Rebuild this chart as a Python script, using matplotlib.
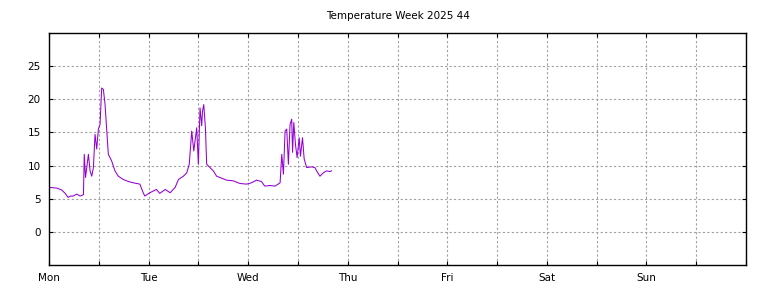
import numpy as np
import matplotlib
matplotlib.use('Agg')
from matplotlib import pyplot as plt
from matplotlib.ticker import MultipleLocator

# hours since Monday 00:00 and temperature in degrees C
hours = [0.2, 1.9, 3.1, 3.9, 4.6, 5.2, 5.8, 6.7, 7.5, 8.3, 8.5, 8.8, 9.5, 9.9,
         10.3, 10.7, 11.1, 11.5, 11.9, 12.3, 12.7, 13.1, 13.5, 13.9, 14.3, 15.1,
         15.9, 16.7, 17.9, 19.1, 20.3, 21.9, 22.7, 23.1, 24.3, 25.9, 26.7, 28.0,
         29.2, 30.4, 31.2, 32.4, 33.2, 33.8, 34.4, 34.9, 35.6, 36.0, 36.4, 36.8,
         37.0, 37.3, 37.7, 38.0, 38.8, 39.6, 40.4, 41.6, 42.8, 44.4, 46.0, 47.6,
         48.8, 50.0, 51.2, 52.0, 53.2, 54.5, 55.7, 56.1, 56.5, 56.9, 57.3, 57.7,
         58.1, 58.5, 58.7, 59.0, 59.4, 59.8, 60.3, 60.6, 61.1, 61.5, 62.1, 63.3,
         64.1, 64.5, 65.3, 66.1, 66.9, 67.7, 68.1]
temps = [6.7, 6.6, 6.3, 5.8, 5.2, 5.4, 5.4, 5.7, 5.4, 5.6, 11.7, 8.2, 11.7, 9.2,
         8.4, 9.7, 14.7, 12.5, 15.5, 16.2, 21.7, 21.5, 19.3, 15.5, 11.7, 10.7,
         9.2, 8.4, 7.9, 7.6, 7.4, 7.2, 5.9, 5.4, 5.9, 6.4, 5.8, 6.4,
         5.9, 6.7, 7.9, 8.4, 8.9, 10.2, 15.2, 12.2, 15.7, 10.2, 18.7, 16.0,
         18.2, 19.2, 15.7, 10.2, 9.7, 9.2, 8.4, 8.1, 7.8, 7.7, 7.3, 7.2,
         7.4, 7.8, 7.6, 6.9, 7.0, 6.9, 7.4, 11.7, 8.7, 15.2, 15.5, 10.2,
         16.2, 17.0, 12.0, 16.5, 13.2, 11.2, 14.2, 11.4, 14.2, 11.0, 9.7, 9.8,
         9.7, 9.2, 8.4, 8.9, 9.2, 9.1, 9.2]
days = ['Mon', 'Tue', 'Wed', 'Thu', 'Fri', 'Sat', 'Sun']
yticks = [0, 5, 10, 15, 20, 25]

plt.rcParams['font.family'] = 'DejaVu Sans'
plt.rcParams['font.size'] = 7.5

fig = plt.figure(figsize=(7.68, 2.88), dpi=100)
ax = fig.add_axes([0.0638, 0.0799, 0.9076, 0.8055])

ax.plot(hours, temps, color='#9400d3', linewidth=0.75)

ax.set_xlim(0, 168)
ax.set_ylim(-5, 30)
ax.set_xticks([24 * i for i in range(7)])
ax.set_xticklabels(days)
ax.xaxis.set_minor_locator(MultipleLocator(12))
ax.set_yticks(yticks)

ax.tick_params(which='both', direction='in', top=True, right=True,
               length=3, width=0.8, pad=6)
ax.grid(True, which='both', axis='x', color='#a0a0a0', linestyle=(0, (2, 2)), linewidth=0.8)
ax.grid(True, which='major', axis='y', color='#a0a0a0', linestyle=(0, (2, 2)), linewidth=0.8)
for s in ax.spines.values():
    s.set_linewidth(1.0)

ax.set_title('Temperature Week 2025 44', fontsize=7.5, pad=10)

fig.savefig('out.png', dpi=100)
